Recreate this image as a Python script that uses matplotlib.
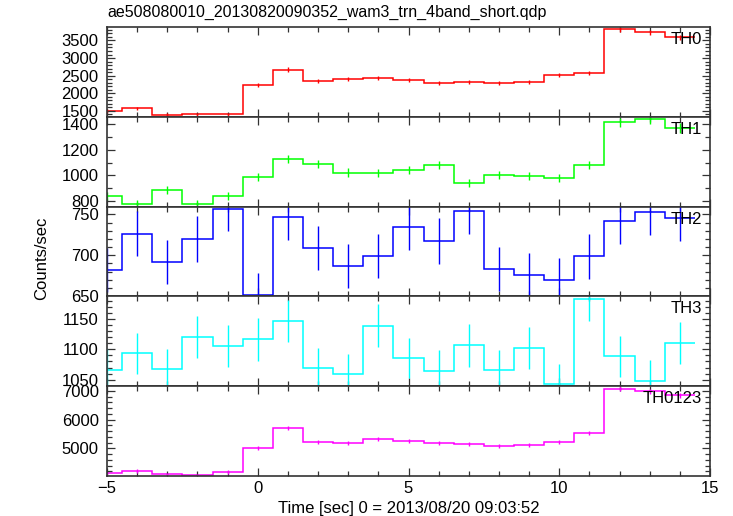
#!/usr/bin/env python3
"""WAM light curve, 4 energy bands + sum, stacked panels (qdp style)."""

import numpy as np
import matplotlib
matplotlib.use("Agg")
import matplotlib.pyplot as plt
from matplotlib.ticker import MultipleLocator

plt.rcParams['font.family'] = ['Liberation Sans', 'DejaVu Sans']

# bin centres [sec], bin width 1 s
time = [-5, -4, -3, -2, -1, 0, 1, 2, 3, 4, 5, 6, 7, 8, 9, 10, 11, 12, 13, 14]
bin_width = 1.0

th0 = [1491, 1567, 1377, 1396, 1396, 2224, 2672, 2339, 2396, 2443,
       2367, 2291, 2320, 2300, 2320, 2510, 2577, 3824, 3738, 3595]
th0_err = [48, 50, 46, 47, 47, 55, 60, 56, 57, 57,
           56, 56, 56, 56, 56, 58, 59, 70, 70, 69]

th1 = [839, 780, 888, 777, 839, 986, 1127, 1089, 1022, 1019,
       1042, 1081, 944, 1004, 996, 980, 1081, 1413, 1436, 1367]
th1_err = [29, 28, 30, 28, 29, 31, 34, 33, 32, 32,
           32, 33, 31, 32, 32, 31, 33, 37, 38, 37]

th2 = [681.4, 726.5, 691.8, 719.8, 757.0, 651.7, 747.1, 708.7, 686.4, 699.2,
       734.7, 717.8, 754.1, 683.1, 675.2, 669.0, 698.4, 741.3, 752.9, 745.9]
th2_err = [27, 28, 27, 28, 28, 27, 28, 27, 27, 27,
           28, 28, 28, 27, 27, 27, 27, 28, 28, 28]

th3 = [1066.0, 1093.4, 1067.1, 1120.9, 1106.1, 1116.5, 1147.8, 1068.7, 1058.9, 1139.6,
       1085.8, 1064.4, 1106.6, 1065.5, 1102.8, 1042.4, 1182.9, 1088.5, 1047.9, 1111.0]
th3_err = [34, 34, 34, 35, 35, 35, 35, 34, 34, 35,
           34, 34, 35, 34, 35, 34, 36, 34, 34, 35]

th0123 = [4134, 4215, 4098, 4063, 4169, 5011, 5713, 5233, 5198, 5327,
          5268, 5187, 5163, 5081, 5128, 5222, 5549, 7082, 6988, 6848]
th0123_err = [64, 65, 64, 64, 65, 71, 76, 72, 72, 73,
              73, 72, 72, 71, 72, 72, 75, 84, 84, 83]

names = ['TH0', 'TH1', 'TH2', 'TH3', 'TH0123']
colors = ['#ff0000', '#00ff00', '#0000ff', '#00ffff', '#ff00ff']
ylims = [(1329, 3883), (757, 1456), (649.5, 759.5), (1039, 1188), (4042, 7165)]
ymajor = [500, 200, 50, 50, 1000]
yminor = [100, 100, 10, 10, 200]

series = [(th0, th0_err), (th1, th1_err), (th2, th2_err),
          (th3, th3_err), (th0123, th0123_err)]

W, H = 733, 516
fig = plt.figure(figsize=(W / 100, H / 100), dpi=100)
left, right, top, bottom = 107 / W, 710 / W, 1 - 27 / H, 1 - 476 / H
gs = fig.add_gridspec(5, 1, left=left, right=right, top=top, bottom=bottom, hspace=0)

t = np.array(time, dtype=float)
edges = np.append(t - bin_width / 2, t[-1] + bin_width / 2)

for i, ((vals, errs), name, col) in enumerate(zip(series, names, colors)):
    ax = fig.add_subplot(gs[i, 0])
    ax.stairs(vals, edges, color=col, lw=1.1, baseline=None)
    ax.errorbar(t, vals, yerr=errs, fmt='none', ecolor=col, elinewidth=1.0)
    ax.set_xlim(-5, 15)
    ax.set_ylim(*ylims[i])
    ax.xaxis.set_major_locator(MultipleLocator(5))
    ax.xaxis.set_minor_locator(MultipleLocator(1))
    ax.yaxis.set_major_locator(MultipleLocator(ymajor[i]))
    ax.yaxis.set_minor_locator(MultipleLocator(yminor[i]))
    ax.tick_params(which='both', direction='in', top=True, right=True,
                   color='#333333', width=0.9)
    ax.tick_params(which='major', length=6, labelsize=12, pad=6)
    ax.tick_params(which='minor', length=3.3)
    ax.tick_params(axis='x', which='major', pad=3.5)
    for sp in ax.spines.values():
        sp.set_color('#333333')
        sp.set_linewidth(1.2)
    if i < 4:
        ax.tick_params(axis='x', labelbottom=False)
    ax.text(1 - 8 / 603, 1 - 5 / 89.4, name, transform=ax.transAxes,
            ha='right', va='top', fontsize=12)

fig.text(107 / W, 1 - 12 / H, 'ae508080010_20130820090352_wam3_trn_4band_short.qdp',
         ha='left', va='center', fontsize=11.5)
fig.text(408.5 / W, 1 - 508 / H, 'Time [sec] 0 = 2013/08/20 09:03:52',
         ha='center', va='center', fontsize=12)
fig.text(42 / W, 1 - 258 / H, 'Counts/sec', rotation=90,
         ha='center', va='center', fontsize=12)

fig.savefig('out.png', dpi=100)
